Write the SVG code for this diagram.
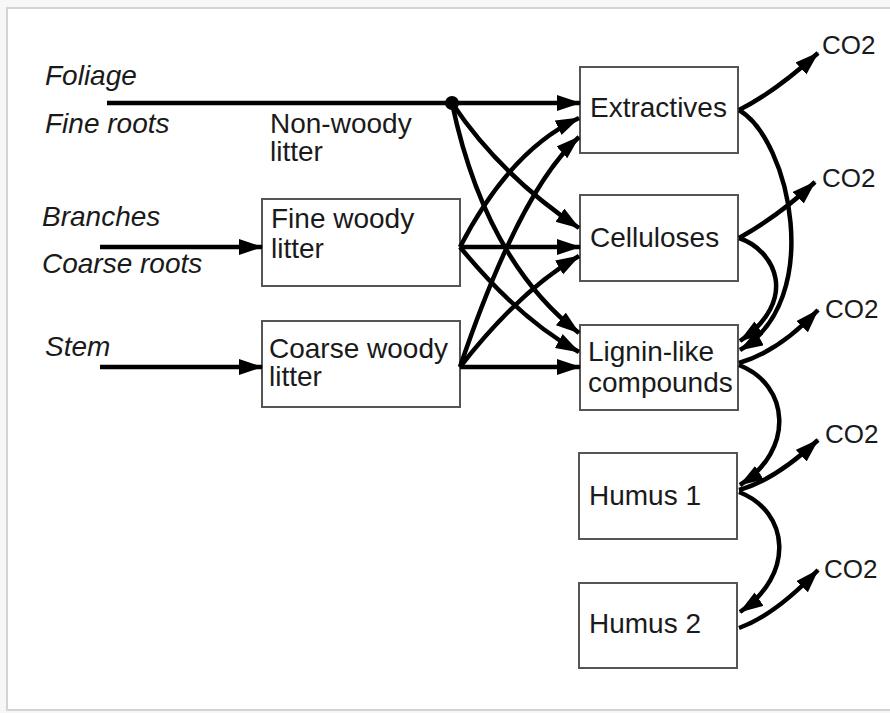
<svg xmlns="http://www.w3.org/2000/svg" width="890" height="713" viewBox="0 0 890 713">
  <style>
    .box { fill: #ffffff; stroke: #555555; stroke-width: 2; }
    .lbl { font-family: "Liberation Sans", Arial, sans-serif; font-size: 28px; fill: #1a1a1a; }
    .src { font-family: "Liberation Sans", Arial, sans-serif; font-size: 28px; font-style: italic; fill: #1a1a1a; }
    .co2 { font-family: "Liberation Sans", Arial, sans-serif; font-size: 26px; fill: #1a1a1a; }
    .flow { fill: none; stroke: #000000; stroke-width: 4.5; marker-end: url(#head); }
  </style>
  <defs>
    <marker id="head" markerUnits="userSpaceOnUse" markerWidth="26" markerHeight="18" refX="23" refY="8" orient="auto">
      <path d="M0,0 L24,8 L0,16 z" fill="#000000"/>
    </marker>
  </defs>

  <!-- page -->
  <rect x="0" y="0" width="890" height="713" fill="#f7f7f7"/>
  <rect x="7" y="8" width="900" height="702" fill="#ffffff" stroke="#d4d4d4" stroke-width="2"/>

  <!-- litter sources -->
  <g id="sources">
    <text class="src" x="45" y="85">Foliage</text>
    <text class="src" x="45" y="133">Fine roots</text>
    <text class="src" x="42" y="226">Branches</text>
    <text class="src" x="42" y="273">Coarse roots</text>
    <text class="src" x="45" y="356">Stem</text>
  </g>

  <g id="non-woody-litter">
    <text class="lbl" x="270" y="133">Non-woody</text>
    <text class="lbl" x="270" y="161">litter</text>
    <circle cx="452" cy="103" r="7" fill="#000000"/>
  </g>

  <g id="fine-woody-litter">
    <rect class="box" x="262" y="199" width="198" height="87"/>
    <text class="lbl" x="271" y="228">Fine woody</text>
    <text class="lbl" x="271" y="258">litter</text>
  </g>

  <g id="coarse-woody-litter">
    <rect class="box" x="262" y="321" width="198" height="86"/>
    <text class="lbl" x="269" y="358">Coarse woody</text>
    <text class="lbl" x="269" y="386">litter</text>
  </g>

  <g id="extractives">
    <rect class="box" x="580" y="67" width="158" height="86"/>
    <text class="lbl" x="590" y="117">Extractives</text>
  </g>

  <g id="celluloses">
    <rect class="box" x="580" y="195" width="158" height="86"/>
    <text class="lbl" x="590" y="247">Celluloses</text>
  </g>

  <g id="lignin">
    <rect class="box" x="580" y="325" width="158" height="85"/>
    <text class="lbl" x="588" y="361">Lignin-like</text>
    <text class="lbl" x="588" y="392">compounds</text>
  </g>

  <g id="humus1">
    <rect class="box" x="579" y="453" width="158" height="86"/>
    <text class="lbl" x="589" y="505">Humus 1</text>
  </g>

  <g id="humus2">
    <rect class="box" x="579" y="583" width="158" height="85"/>
    <text class="lbl" x="589" y="633">Humus 2</text>
  </g>

  <g id="co2-labels">
    <text class="co2" x="822" y="54">CO2</text>
    <text class="co2" x="822" y="187">CO2</text>
    <text class="co2" x="825" y="318">CO2</text>
    <text class="co2" x="825" y="443">CO2</text>
    <text class="co2" x="824" y="578">CO2</text>
  </g>

  <g id="connectors">
    <!-- inputs -->
    <path class="flow" d="M107,103 L580,103"/>
    <path class="flow" d="M100,247 L262,247"/>
    <path class="flow" d="M100,367 L262,367"/>

    <!-- non-woody litter split -->
    <path class="flow" d="M452,103 Q500,175 579,228"/>
    <path class="flow" d="M452,103 Q485,260 579,333"/>

    <!-- fine woody litter split -->
    <path class="flow" d="M460,247 Q510,150 579,118"/>
    <path class="flow" d="M460,247 L580,247"/>
    <path class="flow" d="M460,247 Q520,320 579,352"/>

    <!-- coarse woody litter split -->
    <path class="flow" d="M460,367 Q520,190 579,137"/>
    <path class="flow" d="M460,367 Q520,290 579,256"/>
    <path class="flow" d="M460,367 L580,367"/>

    <!-- decomposition chain -->
    <path class="flow" d="M739,110 Q775,92 818,53"/>
    <path class="flow" d="M739,110 C790,140 825,300 740,350"/>
    <path class="flow" d="M739,238 Q780,215 815,182"/>
    <path class="flow" d="M739,238 C775,250 800,300 740,341"/>
    <path class="flow" d="M739,363 Q778,352 818,310"/>
    <path class="flow" d="M739,365 C790,385 795,450 740,485"/>
    <path class="flow" d="M739,490 Q775,480 818,440"/>
    <path class="flow" d="M739,492 C790,512 795,575 740,612"/>
    <path class="flow" d="M739,628 Q775,615 818,570"/>
  </g>
</svg>
